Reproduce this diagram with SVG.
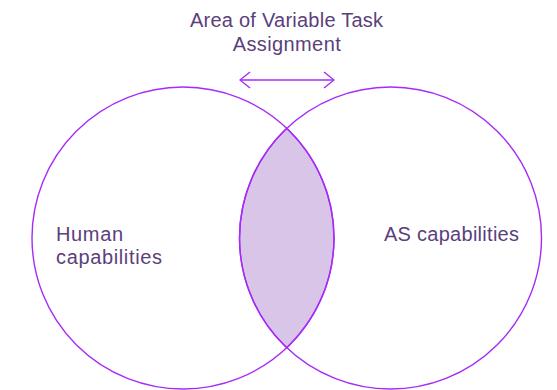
<svg xmlns="http://www.w3.org/2000/svg" width="557" height="390" viewBox="0 0 557 390">
<style>
.c{fill:none;stroke:#A62BF5;stroke-width:1.4}
.lens{fill:#D9C5E8;stroke:#A62BF5;stroke-width:1.4}
.t{font-family:"Liberation Sans",Arial,sans-serif;font-size:20px;fill:#5B3F7C}
.arr{fill:none;stroke:#A62BF5;stroke-width:1.4}
</style>
<defs>
<marker id="ah" viewBox="0 0 12 20" refX="11" refY="10" markerWidth="12" markerHeight="20" markerUnits="userSpaceOnUse" orient="auto-start-reverse">
<path d="M1 2 L11 10 L1 18" fill="none" stroke="#A62BF5" stroke-width="1.4"/>
</marker>
</defs>
<rect width="557" height="390" fill="#ffffff"/>
<g id="overlap">
<path class="lens" d="M286.75 128.3 A151 151 0 0 1 286.75 347.7 A151 151 0 0 1 286.75 128.3 Z"/>
</g>
<g id="human">
<circle class="c" cx="183" cy="238" r="151"/>
<text class="t"><tspan x="56" y="241" textLength="67" lengthAdjust="spacing">Human</tspan><tspan x="56" y="264" textLength="106" lengthAdjust="spacing">capabilities</tspan></text>
</g>
<g id="as">
<circle class="c" cx="390.5" cy="238" r="151"/>
<text class="t" x="384" y="241" textLength="135" lengthAdjust="spacing">AS capabilities</text>
</g>
<g id="title">
<text class="t" text-anchor="middle"><tspan x="286.5" y="27" textLength="193" lengthAdjust="spacing">Area of Variable Task</tspan><tspan x="286.7" y="51" textLength="108" lengthAdjust="spacing">Assignment</tspan></text>
</g>
<g id="connectors">
<line class="arr" x1="240" y1="80" x2="334" y2="80" marker-start="url(#ah)" marker-end="url(#ah)"/>
</g>
</svg>
